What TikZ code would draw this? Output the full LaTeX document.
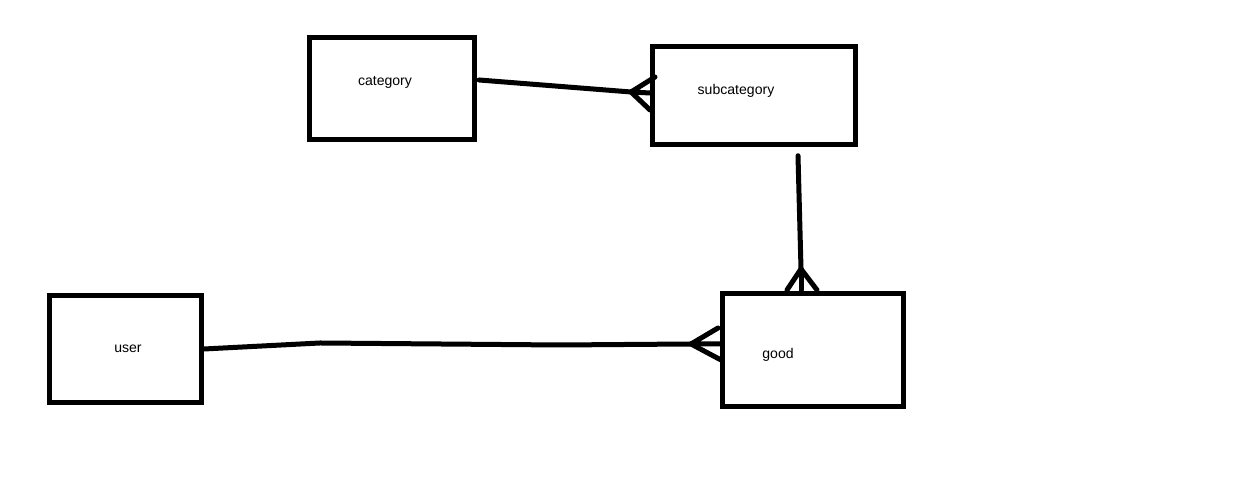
\documentclass[tikz,border=0pt]{standalone}
\usepackage{fontspec}
\setmainfont{Liberation Sans}
\usetikzlibrary{calc, positioning}

\begin{document}
\begin{tikzpicture}[line cap=round, line join=round]
    \tikzset{
        entity/.style={draw, line width=0.1cm, line cap=rect, line join=miter, inner sep=0pt},
        lbl/.style={font=\fontsize{8}{9.6}\selectfont, text=black},
        link/.style={line width=0.1cm}
    }
    \useasboundingbox (0,0) rectangle (25,9.74);

    % Bảng (các khối)
    \node[entity, minimum width=3.3cm, minimum height=2.05cm,
        label={[lbl, xshift=-0.14cm, yshift=0.13cm]center:category}] (category) at (7.84,7.97) {};
    \node[entity, minimum width=4.06cm, minimum height=1.97cm,
        label={[lbl, xshift=-0.36cm, yshift=0.09cm]center:subcategory}] (subcategory) at (15.08,7.83) {};
    \node[entity, minimum width=3.62cm, minimum height=2.26cm,
        label={[lbl, xshift=-0.7cm, yshift=-0.1cm]center:good}] (good) at (16.26,2.74) {};
    \node[entity, minimum width=3.04cm, minimum height=2.14cm,
        label={[lbl, xshift=0.05cm]center:user}] (user) at (2.51,2.76) {};

    % category -- subcategory (một - nhiều)
    \coordinate (cs) at ($(category.east)+(0.04,0.17)$);
    \coordinate (csv) at ($(subcategory.west)+(-0.38,0.07)$);
    \draw[link] (cs) -- (csv);
    \draw[link] ($(subcategory.west)+(0.1,0.37)$) -- (csv) -- ($(subcategory.west)+(0,0.05)$);
    \draw[link] (csv) -- ($(subcategory.west)+(0,-0.29)$);

    % subcategory -- good
    \coordinate (sg) at ($(subcategory.south)+(0.88,-0.17)$);
    \coordinate (sgv) at ($(good.north)+(-0.24,0.44)$);
    \draw[link] (sg) -- (sgv);
    \draw[link] ($(good.north)+(-0.52,0.02)$) -- (sgv) -- ($(good.north)+(0.08,0.02)$);
    \draw[link] (sgv) -- ($(good.north)+(-0.24,0.02)$);

    % user -- good
    \coordinate (ug) at (user.east);
    \coordinate (ugv) at ($(good.west)+(-0.58,0.12)$);
    \draw[link] (ug) -- (6.4,2.88) -- (11.2,2.84) -- (ugv);
    \draw[link] ($(good.west)+(-0.04,0.44)$) -- (ugv) -- ($(good.west)+(0.02,0.12)$);
    \draw[link] (ugv) -- ($(good.west)+(0.02,-0.2)$);

\end{tikzpicture}
\end{document}
